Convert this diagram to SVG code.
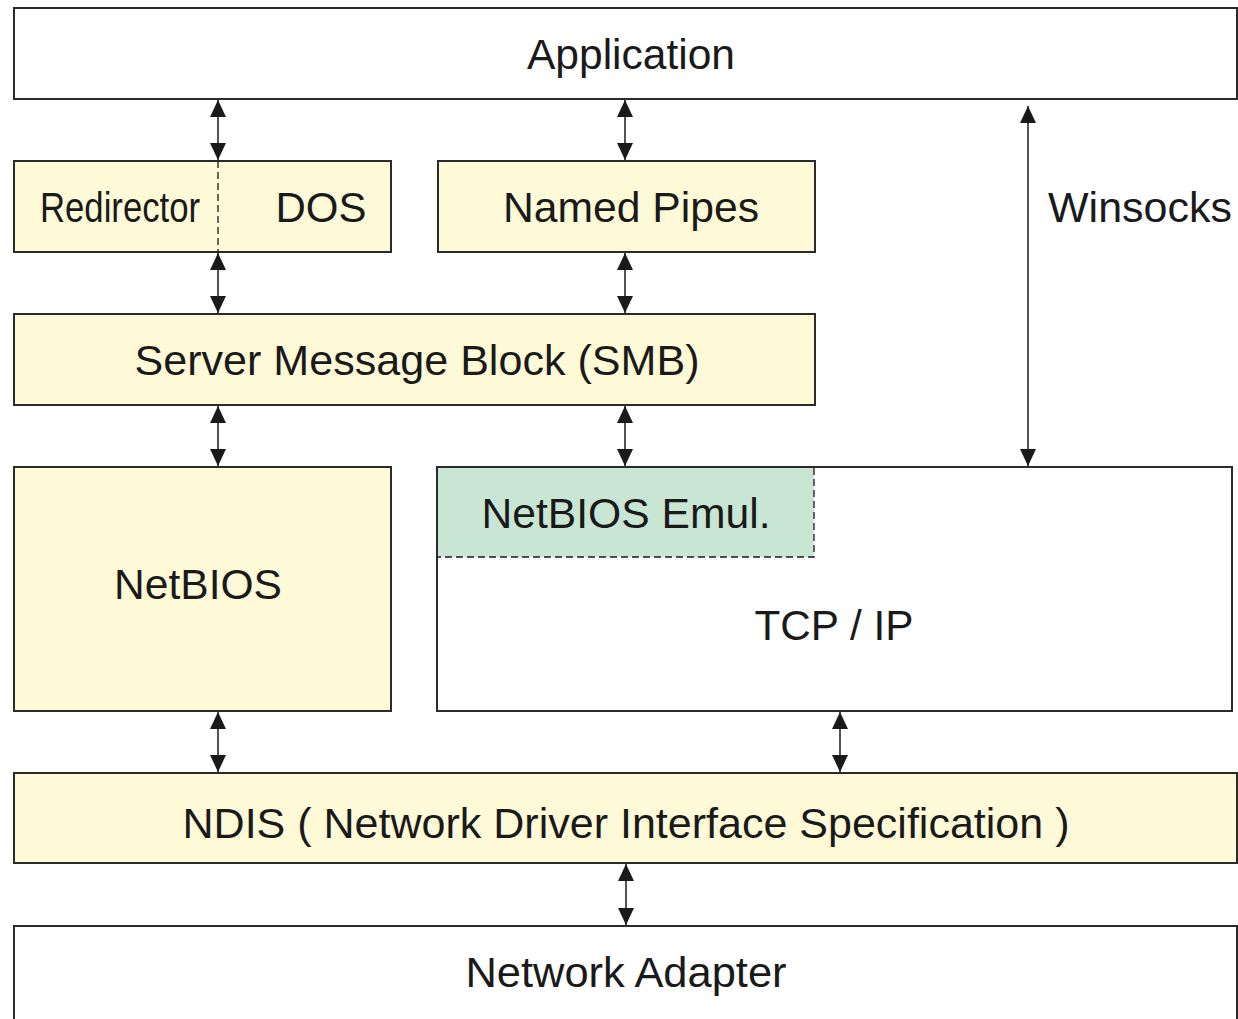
<svg xmlns="http://www.w3.org/2000/svg" width="1238" height="1019" viewBox="0 0 1238 1019">
<style>
.box{stroke:#2b2b2b;stroke-width:2}
.y{fill:#fefad8}
.w{fill:#ffffff}
.t{font-family:"Liberation Sans",Arial,sans-serif;font-size:42px;fill:#1a1a1a;text-anchor:middle}
.c{stroke:#1a1a1a;stroke-width:1.5;fill:none;marker-start:url(#ah);marker-end:url(#ah)}
.d{stroke:#1a1a1a;stroke-width:1.3;stroke-dasharray:7,4;fill:none}
</style>
<defs>
<marker id="ah" viewBox="0 0 18 16" refX="17" refY="8" markerWidth="18" markerHeight="16" markerUnits="userSpaceOnUse" orient="auto-start-reverse">
<path d="M0,0 L17,8 L0,16 Z" fill="#1a1a1a"/>
</marker>
</defs>
<rect width="1238" height="1019" fill="#ffffff"/>
<g id="application">
<rect class="box w" x="14" y="8" width="1223" height="91"/>
<text class="t" x="631" y="69" textLength="208" lengthAdjust="spacingAndGlyphs">Application</text>
</g>
<g id="redirector-dos">
<rect class="box y" x="14" y="161" width="377" height="91"/>
<line class="d" x1="218" y1="161" x2="218" y2="252"/>
<text class="t" x="120" y="222" textLength="160" lengthAdjust="spacingAndGlyphs">Redirector</text>
<text class="t" x="321" y="222" textLength="91" lengthAdjust="spacingAndGlyphs">DOS</text>
</g>
<g id="named-pipes">
<rect class="box y" x="438" y="161" width="377" height="91"/>
<text class="t" x="631" y="222" textLength="256" lengthAdjust="spacingAndGlyphs">Named Pipes</text>
</g>
<g id="winsocks">
<text class="t" x="1140" y="222" textLength="184" lengthAdjust="spacingAndGlyphs">Winsocks</text>
</g>
<g id="smb">
<rect class="box y" x="14" y="314" width="801" height="91"/>
<text class="t" x="417" y="375" textLength="565" lengthAdjust="spacingAndGlyphs">Server Message Block (SMB)</text>
</g>
<g id="netbios">
<rect class="box y" x="14" y="467" width="377" height="244"/>
<text class="t" x="198" y="599" textLength="168" lengthAdjust="spacingAndGlyphs">NetBIOS</text>
</g>
<g id="tcpip">
<rect class="box w" x="437" y="467" width="795" height="244"/>
<text class="t" x="834" y="640" textLength="159" lengthAdjust="spacingAndGlyphs">TCP / IP</text>
</g>
<g id="netbios-emul">
<rect x="438" y="468" width="376" height="89" fill="#c9e6d5"/>
<path class="d" d="M814,468 L814,557 L438,557"/>
<text class="t" x="626" y="528" textLength="289" lengthAdjust="spacingAndGlyphs">NetBIOS Emul.</text>
</g>
<g id="ndis">
<rect class="box y" x="14" y="773" width="1223" height="90"/>
<text class="t" x="626" y="838" textLength="887" lengthAdjust="spacingAndGlyphs">NDIS ( Network Driver Interface Specification )</text>
</g>
<g id="network-adapter">
<rect class="box w" x="14" y="926" width="1223" height="110"/>
<text class="t" x="626" y="987" textLength="321" lengthAdjust="spacingAndGlyphs">Network Adapter</text>
</g>
<g id="connectors">
<line class="c" x1="218" y1="100" x2="218" y2="160"/>
<line class="c" x1="625" y1="100" x2="625" y2="160"/>
<line class="c" x1="1028" y1="106" x2="1028" y2="466"/>
<line class="c" x1="218" y1="253" x2="218" y2="313"/>
<line class="c" x1="625" y1="253" x2="625" y2="313"/>
<line class="c" x1="218" y1="406" x2="218" y2="466"/>
<line class="c" x1="625" y1="406" x2="625" y2="466"/>
<line class="c" x1="218" y1="712" x2="218" y2="772"/>
<line class="c" x1="840" y1="712" x2="840" y2="772"/>
<line class="c" x1="626" y1="864" x2="626" y2="925"/>
</g>
</svg>
